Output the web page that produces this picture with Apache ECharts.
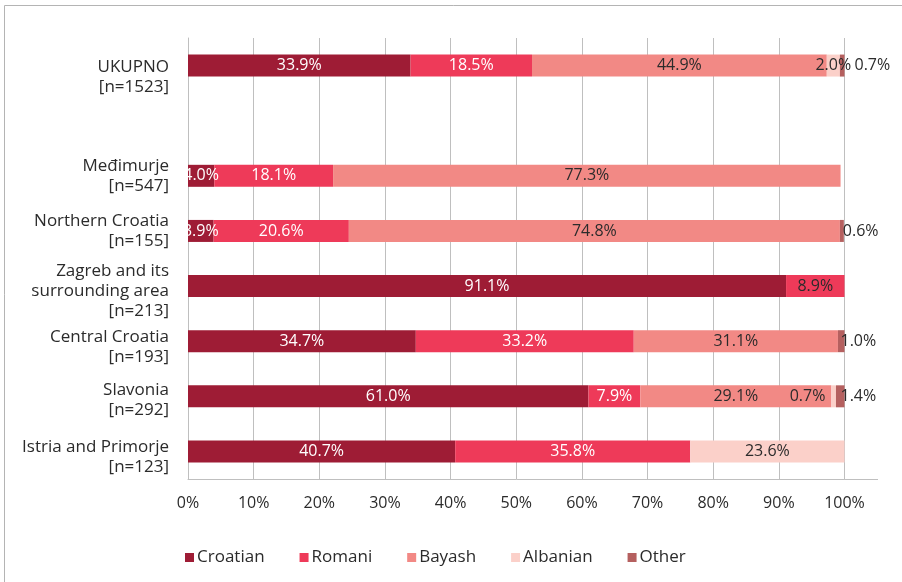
<!DOCTYPE html>
<html>
<head>
<meta charset="utf-8">
<script src="https://cdn.jsdelivr.net/npm/echarts@6/dist/echarts.min.js"></script>
<style>
  html, body { margin: 0; padding: 0; background: #fff; }
  #chart { width: 902px; height: 582px; }
</style>
</head>
<body>
<div id="chart"></div>
<script>
// regions, top to bottom (second slot is an empty gap row)
var regions = ['UKUPNO\n[n=1523]', '', 'Međimurje\n[n=547]', 'Northern Croatia\n[n=155]',
  'Zagreb and its\nsurrounding area\n[n=213]', 'Central Croatia\n[n=193]', 'Slavonia\n[n=292]',
  'Istria and Primorje\n[n=123]'];

var croatian = [33.9, null, 4.0, 3.9, 91.1, 34.7, 61.0, 40.7];
var romani   = [18.5, null, 18.1, 20.6, 8.9, 33.2, 7.9, 35.8];
var bayash   = [44.9, null, 77.3, 74.8, 0, 31.1, 29.1, 0];
var albanian = [2.0, null, 0, 0, 0, 0, 0.7, 23.6];
var other    = [0.7, null, 0, 0.6, 0, 1.0, 1.4, 0];

var xTicks = [0, 10, 20, 30, 40, 50, 60, 70, 80, 90, 100];

var FONT = '"Open Sans", "DejaVu Sans", sans-serif';
var DARK = '#2b2b2b';

var chart = echarts.init(document.getElementById('chart'));

// small downward nudges of the category labels, as in the reference
var labelShift = [12, 0, 0, 0, 5, 6, 4, 6];

function fmt(p) {
  if (!p.value) return '';
  return p.value.toFixed(1) + '%';
}

function makeSeries(name, values, color, textColor, overrides) {
  return {
    name: name,
    type: 'bar',
    stack: 'all',
    barWidth: 22,
    itemStyle: { color: color },
    label: {
      show: true,
      position: 'inside',
      formatter: fmt,
      color: textColor,
      fontFamily: FONT,
      fontSize: 16
    },
    data: values.map(function (v, i) {
      var item = { value: v };
      if (overrides && overrides[i]) item.label = overrides[i];
      return item;
    })
  };
}

var gapRich = {};
labelShift.forEach(function (s) {
  if (s) gapRich['g' + s] = { lineHeight: s * 2, fontSize: 1 };
});

chart.setOption({
  animation: false,
  textStyle: { fontFamily: FONT },
  grid: { left: 188, right: 57.5, top: 38, bottom: 103 },
  legend: {
    left: 180,
    top: 544,
    icon: 'rect',
    itemWidth: 9,
    itemHeight: 9,
    itemGap: 35,
    textStyle: { fontFamily: FONT, fontSize: 17, color: DARK, padding: [0, 0, 0, -2] },
    data: ['Croatian', 'Romani', 'Bayash', 'Albanian', 'Other']
  },
  xAxis: {
    type: 'value',
    min: 0,
    max: 100,
    interval: 10,
    axisLine: { show: true, lineStyle: { color: '#bfbfbf' } },
    axisTick: { show: false },
    splitLine: { show: true, lineStyle: { color: '#bfbfbf', width: 1 } },
    axisLabel: {
      margin: 16,
      fontSize: 16,
      color: DARK,
      fontFamily: FONT,
      formatter: function (v) { return xTicks.indexOf(v) >= 0 ? v + '%' : ''; }
    }
  },
  yAxis: {
    type: 'category',
    inverse: true,
    data: regions,
    axisLine: { show: true, lineStyle: { color: '#bfbfbf' } },
    axisTick: { show: false },
    axisLabel: {
      margin: 19,
      fontSize: 17,
      lineHeight: 20,
      color: DARK,
      fontFamily: FONT,
      align: 'right',
      rich: gapRich,
      formatter: function (value, index) {
        var s = labelShift[index];
        if (!value || !s) return value;
        return '{g' + s + '| }\n' + value;
      }
    }
  },
  series: [
    makeSeries('Croatian', croatian, '#9e1c35', '#ffffff'),
    makeSeries('Romani', romani, '#ee3a59', '#ffffff', { 4: { color: DARK } }),
    makeSeries('Bayash', bayash, '#f28985', DARK),
    makeSeries('Albanian', albanian, '#fbd0c9', DARK, {
      6: { position: 'left', distance: 6 }
    }),
    makeSeries('Other', other, '#b5605f', DARK, {
      0: { position: 'right', distance: 10 },
      3: { position: 'right', distance: -1 },
      5: { position: 'right', distance: -4 },
      6: { position: 'right', distance: -4 }
    })
  ]
});

// outer frame and the short extension of the bottom axis line
var endX = chart.convertToPixel({ xAxisIndex: 0 }, 100);
var baseY = 582 - 103;
chart.setOption({
  graphic: [
    {
      type: 'rect',
      silent: true,
      shape: { x: 4.5, y: 5.5, width: 1000, height: 1000 },
      style: { fill: 'none', stroke: '#b4b4b4', lineWidth: 1 }
    },
    {
      type: 'line',
      silent: true,
      shape: { x1: endX, y1: baseY + 0.5, x2: 878, y2: baseY + 0.5 },
      style: { stroke: '#bfbfbf', lineWidth: 1 }
    }
  ]
});
</script>
</body>
</html>
